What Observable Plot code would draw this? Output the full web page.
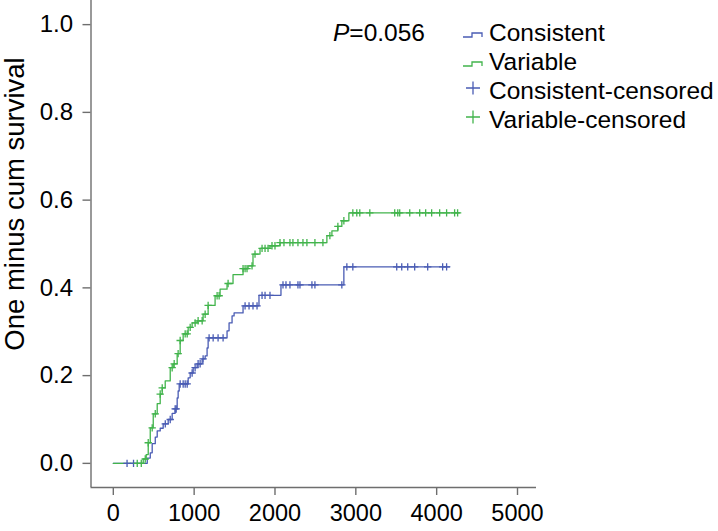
<!DOCTYPE html>
<html><head><meta charset="utf-8">
<script src="https://cdn.jsdelivr.net/npm/d3@7"></script>
<script src="https://cdn.jsdelivr.net/npm/@observablehq/plot@0.6"></script>
<style>
html,body{margin:0;padding:0;background:#fff;}
#chart{width:718px;height:531px;}
</style></head><body><div id="chart"></div>
<script>
const xTicks = [0, 1000, 2000, 3000, 4000, 5000];
const yTicks = [0, 0.2, 0.4, 0.6, 0.8, 1.0];
const legendLabels = ["Consistent", "Variable", "Consistent-censored", "Variable-censored"];
const pValueLabel = "=0.056";
const yLabel = "One minus cum survival";

const consistentTime = [0, 420, 457, 481, 519, 543, 580, 617, 679, 728, 765, 790, 802, 815, 926, 951, 988, 1037, 1099, 1136, 1160, 1173, 1407, 1432, 1469, 1494, 1605, 1802, 2074, 2852, 4160];
const consistentValue = [0, 0.012, 0.024, 0.045, 0.06, 0.074, 0.08, 0.09, 0.10, 0.114, 0.124, 0.149, 0.165, 0.181, 0.195, 0.206, 0.218, 0.227, 0.238, 0.245, 0.263, 0.286, 0.302, 0.320, 0.336, 0.343, 0.359, 0.383, 0.407, 0.448, 0.448];
const consistentCensored = [170, 250, 643, 704, 765, 778, 827, 864, 889, 914, 975, 1012, 1049, 1074, 1111, 1185, 1235, 1296, 1358, 1630, 1679, 1728, 1778, 1840, 1877, 1938, 2099, 2136, 2185, 2284, 2309, 2457, 2494, 2827, 2889, 2963, 3506, 3568, 3642, 3728, 3889, 4074, 4123];

const variableTime = [0, 370, 407, 432, 457, 494, 543, 580, 605, 642, 704, 741, 790, 827, 864, 926, 975, 1037, 1111, 1173, 1259, 1321, 1407, 1481, 1605, 1667, 1728, 1815, 1938, 2062, 2642, 2704, 2778, 2827, 2914, 4284];
const variableValue = [0, 0.01, 0.02, 0.047, 0.081, 0.113, 0.136, 0.158, 0.172, 0.188, 0.218, 0.227, 0.25, 0.28, 0.295, 0.31, 0.32, 0.325, 0.34, 0.36, 0.382, 0.397, 0.41, 0.43, 0.444, 0.45, 0.477, 0.49, 0.496, 0.503, 0.519, 0.53, 0.54, 0.553, 0.571, 0.571];
const variableCensored = [296, 346, 395, 432, 481, 519, 580, 605, 728, 753, 802, 827, 889, 914, 951, 1012, 1049, 1099, 1136, 1173, 1284, 1309, 1420, 1605, 1630, 1654, 1716, 1753, 1840, 1877, 1914, 1963, 2000, 2062, 2111, 2185, 2222, 2284, 2346, 2395, 2494, 2593, 2679, 2778, 2852, 2963, 3012, 3049, 3173, 3481, 3519, 3543, 3667, 3790, 3864, 3938, 4037, 4123, 4222, 4259];

const BLUE = "#4a5cb4", GREEN = "#42b44c", AXIS = "#6e6e6e";
const FONT = "'Liberation Sans', Arial, sans-serif";

function stepAt(times, vals, t) {
  let v = vals[0];
  for (let i = 0; i < times.length; i++) if (times[i] <= t) v = vals[i];
  return v;
}
const consistentLine = consistentTime.map((t, i) => ({t, v: consistentValue[i]}));
const variableLine = variableTime.map((t, i) => ({t, v: variableValue[i]}));
const consistentMarks = consistentCensored.map(t => ({t, v: stepAt(consistentTime, consistentValue, t)}));
const variableMarks = variableCensored.map(t => ({t, v: stepAt(variableTime, variableValue, t)}));

const xDomain = [-276, 5235];
const yDomain = [-0.055, 1.055];

const plot = Plot.plot({
  width: 718, height: 531,
  marginLeft: 90.5, marginRight: 182, marginTop: 0, marginBottom: 44,
  style: {fontFamily: FONT, fontSize: "24px", color: "#000", background: "#fff", overflow: "visible"},
  x: {domain: xDomain},
  y: {domain: yDomain},
  marks: [
    Plot.ruleX([xDomain[0]], {stroke: AXIS, strokeWidth: 1.4}),
    Plot.ruleY([yDomain[0]], {stroke: AXIS, strokeWidth: 1.4}),
    Plot.axisX({ticks: xTicks, tickSize: 8, tickPadding: 9, tickFormat: d => String(d), label: null, stroke: AXIS, strokeWidth: 1.4, fill: "#000", fontSize: 23.5}),
    Plot.axisY({ticks: yTicks, tickSize: 8, tickPadding: 10, tickFormat: d3.format(".1f"), label: null, stroke: AXIS, strokeWidth: 1.4, fill: "#000", fontSize: 24}),
    Plot.line(consistentLine, {x: "t", y: "v", curve: "step-after", stroke: BLUE, strokeWidth: 1.3}),
    Plot.line(variableLine, {x: "t", y: "v", curve: "step-after", stroke: GREEN, strokeWidth: 1.3}),
    Plot.dot(consistentMarks, {x: "t", y: "v", symbol: "plus", r: 2.5, stroke: BLUE, strokeWidth: 1.3}),
    Plot.dot(variableMarks, {x: "t", y: "v", symbol: "plus", r: 2.5, stroke: GREEN, strokeWidth: 1.3})
  ]
});
document.getElementById("chart").appendChild(plot);

// Axis title, P value and legend drawn into the same SVG
const svg = d3.select(plot);
svg.append("text")
  .attr("transform", "translate(24,204) rotate(-90)")
  .attr("text-anchor", "middle")
  .attr("font-family", FONT).attr("font-size", 27.5).attr("fill", "#000")
  .text(yLabel);

const g = svg.append("g").attr("font-family", FONT).attr("font-size", 24.5)
  .attr("fill", "#000").attr("text-anchor", "start");
const pt = g.append("text").attr("x", 333).attr("y", 41);
pt.append("tspan").attr("font-style", "italic").text("P");
pt.append("tspan").text(pValueLabel);
const rowH = 29, baseY = 41, textX = 489;
legendLabels.forEach((lab, i) => {
  const y = baseY + i * rowH;
  const col = i % 2 === 0 ? BLUE : GREEN;
  if (i < 2) {
    g.append("path").attr("d", `M463,${y - 4}H472V${y - 8}H482V${y - 4}`)
      .attr("fill", "none").attr("stroke", col).attr("stroke-width", 1.3);
  } else {
    const cx = 473, cy = y - 11;
    g.append("path").attr("d", `M${cx - 7},${cy}H${cx + 7}M${cx},${cy - 6.5}V${cy + 6.5}`)
      .attr("fill", "none").attr("stroke", col).attr("stroke-width", 1.3);
  }
  g.append("text").attr("x", textX).attr("y", y).text(lab);
});
</script></body></html>
